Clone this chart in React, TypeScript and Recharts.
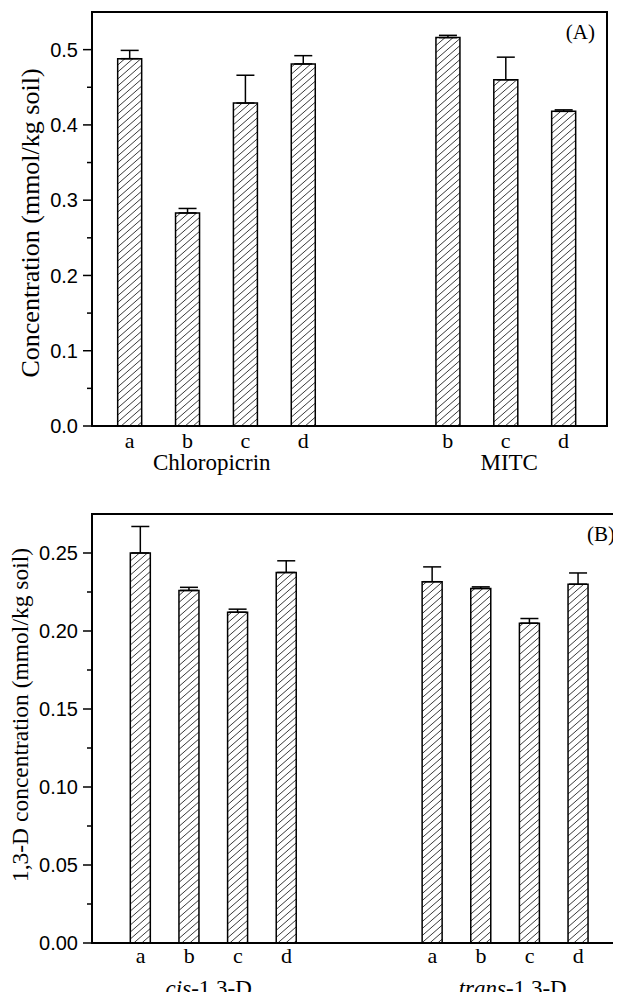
import React from "react";
import { ComposedChart, Bar, ErrorBar, XAxis, YAxis, ReferenceArea } from "recharts";

const SERIF = '"Liberation Serif", "Times New Roman", serif';
const SANS = '"Liberation Sans", Arial, sans-serif';

// Panel (A): chloropicrin and MITC
const catA = ["a", "b", "c", "d", "b", "c", "d"];
const posA = [1, 2, 3, 4, 6.5, 7.5, 8.5];
const meanA = [0.488, 0.283, 0.429, 0.481, 0.516, 0.46, 0.418];
const errA = [0.011, 0.006, 0.037, 0.011, 0.003, 0.03, 0.002];
const groupA = ["Chloropicrin", "MITC"];
const groupPosA = [2.42, 7.56];
const yTicksA = [0, 0.05, 0.1, 0.15, 0.2, 0.25, 0.3, 0.35, 0.4, 0.45, 0.5];

// Panel (B): cis / trans 1,3-D
const catB = ["a", "b", "c", "d", "a", "b", "c", "d"];
const posB = [1, 2, 3, 4, 7, 8, 9, 10];
const meanB = [0.25, 0.226, 0.212, 0.2375, 0.2316, 0.2273, 0.205, 0.23];
const errB = [0.017, 0.002, 0.002, 0.0075, 0.0095, 0.001, 0.003, 0.0072];
const groupB = ["cis-1,3-D", "trans-1,3-D"];
const groupPosB = [2.4, 8.65];
const yTicksB = [0, 0.025, 0.05, 0.075, 0.1, 0.125, 0.15, 0.175, 0.2, 0.225, 0.25];

// petites graduations sans texte, grandes avec texte
const makeYTick = (step: number, digits: number, fontSize: number) => (props: any) => {
  const { x, y, payload } = props;
  const v = payload.value;
  const major = Math.abs(v / step - Math.round(v / step)) < 1e-6;
  return (
    <g>
      <line x1={x - (major ? 9 : 5)} x2={x} y1={y} y2={y} stroke="#000" strokeWidth={1.5} />
      {major && (
        <text x={x - 14} y={y} dy="0.36em" textAnchor="end" fontSize={fontSize} fontFamily={SANS} fill="#000">
          {v.toFixed(digits)}
        </text>
      )}
    </g>
  );
};

const makeXTick = (names: string[], at: number[], fontSize: number, italic: boolean) => (props: any) => {
  const { x, y, payload } = props;
  const name = names[at.indexOf(payload.value)] || "";
  const cut = name.indexOf("-");
  return (
    <text x={x} y={y} dy="0.71em" textAnchor="middle" fontSize={fontSize} fontFamily={SERIF} fill="#000">
      {italic && cut > 0 ? (
        <>
          <tspan fontStyle="italic">{name.slice(0, cut)}</tspan>
          <tspan>{name.slice(cut)}</tspan>
        </>
      ) : (
        name
      )}
    </text>
  );
};

function Panel(p: any) {
  const data = p.pos.map((x: number, i: number) => ({ x, v: p.mean[i], e: [0, p.err[i]] }));
  const hatch = `hatch-${p.id}`;
  const yLabel = (lp: any) => {
    const vb = lp.viewBox || { y: 0, height: 0 };
    const cx = p.yLabelX;
    const cy = vb.y + vb.height / 2 + p.yLabelDy;
    return (
      <text
        x={cx}
        y={cy}
        dy="0.35em"
        transform={`rotate(-90 ${cx} ${cy})`}
        textAnchor="middle"
        fontSize={p.yLabelSize}
        fontFamily={SERIF}
        fill="#000"
      >
        {p.yLabel}
      </text>
    );
  };

  return (
    <ComposedChart width={p.width} height={p.height} data={data} margin={p.margin}>
      <defs>
        <pattern id={hatch} patternUnits="userSpaceOnUse" width={8} height={7}>
          <rect width={8} height={7} fill="#fff" />
          <path d="M-8,7 L16,-14 M-8,14 L16,-7 M-8,21 L16,0" stroke="#222" strokeWidth={0.9} />
        </pattern>
      </defs>
      <XAxis
        dataKey="x"
        type="number"
        domain={p.xDomain}
        allowDataOverflow
        ticks={p.pos}
        interval={0}
        tickLine={false}
        tickSize={0}
        tickMargin={p.m1}
        height={p.h1}
        axisLine={{ stroke: "#000", strokeWidth: 2 }}
        tick={makeXTick(p.cats, p.pos, 22, false)}
      />
      <XAxis
        xAxisId="g"
        dataKey="x"
        type="number"
        domain={p.xDomain}
        allowDataOverflow
        ticks={p.groupPos}
        interval={0}
        tickLine={false}
        tickSize={0}
        tickMargin={p.m2}
        height={p.h2}
        axisLine={false}
        tick={makeXTick(p.groups, p.groupPos, 23, p.italic)}
      />
      <YAxis
        type="number"
        domain={p.yDomain}
        allowDataOverflow
        ticks={p.yTicks}
        interval={0}
        width={92}
        tickLine={false}
        tickSize={0}
        tickMargin={0}
        axisLine={{ stroke: "#000", strokeWidth: 2 }}
        tick={makeYTick(p.step, p.digits, p.tickFont)}
        label={yLabel}
      />
      <ReferenceArea
        x1={p.xDomain[0]}
        x2={p.xDomain[1]}
        y1={p.yDomain[0]}
        y2={p.yDomain[1]}
        fill="none"
        fillOpacity={0}
        stroke="#000"
        strokeWidth={2}
        label={{ value: p.tag, position: "insideTopRight", offset: 12, fontSize: 21, fontFamily: SERIF, fill: "#000" }}
      />
      <Bar dataKey="v" barSize={p.barSize} fill={`url(#${hatch})`} stroke="#000" strokeWidth={1.5} isAnimationActive={false}>
        <ErrorBar dataKey="e" direction="y" width={9} stroke="#000" strokeWidth={1.5} />
      </Bar>
    </ComposedChart>
  );
}

export default function App() {
  return (
    <div style={{ position: "relative", width: 621, height: 1000, overflow: "hidden", margin: -8, background: "#fff" }}>
      <div style={{ position: "absolute", left: 0, top: 0 }}>
        <Panel
          id="a"
          width={621}
          height={480}
          margin={{ top: 12, right: 14, bottom: 0, left: 0 }}
          cats={catA}
          pos={posA}
          mean={meanA}
          err={errA}
          groups={groupA}
          groupPos={groupPosA}
          yTicks={yTicksA}
          step={0.1}
          digits={1}
          tickFont={20}
          xDomain={[0.35, 9.25]}
          yDomain={[0, 0.55]}
          barSize={24}
          m1={6}
          h1={24}
          m2={4}
          h2={30}
          italic={false}
          yLabel="Concentration (mmol/kg soil)"
          yLabelSize={26}
          yLabelX={30}
          yLabelDy={4}
          tag="(A)"
        />
      </div>
      <div style={{ position: "absolute", left: 0, top: 500 }}>
        <Panel
          id="b"
          width={640}
          height={513}
          margin={{ top: 14, right: 13, bottom: 0, left: 0 }}
          cats={catB}
          pos={posB}
          mean={meanB}
          err={errB}
          groups={groupB}
          groupPos={groupPosB}
          yTicks={yTicksB}
          step={0.05}
          digits={2}
          tickFont={20}
          xDomain={[0, 11]}
          yDomain={[0, 0.275]}
          barSize={20}
          m1={4}
          h1={30}
          m2={7}
          h2={40}
          italic={true}
          yLabel="1,3-D concentration (mmol/kg soil)"
          yLabelSize={23.5}
          yLabelX={20}
          yLabelDy={-13.5}
          tag="(B)"
        />
      </div>
    </div>
  );
}
